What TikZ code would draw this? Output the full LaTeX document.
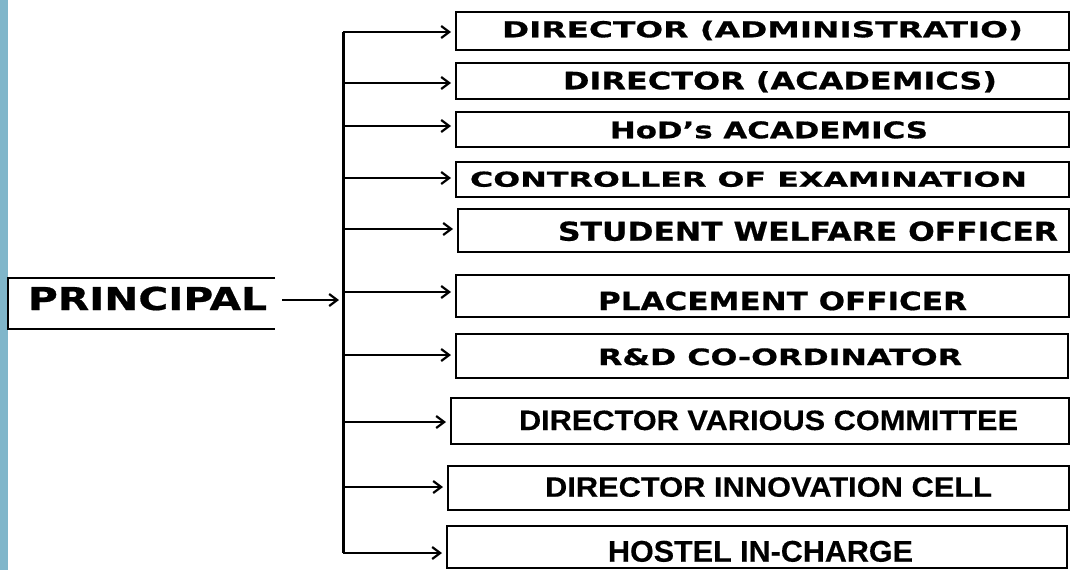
\documentclass[tikz,border=0pt]{standalone}
\usepackage{fontspec}
\usepackage{graphicx}
\usetikzlibrary{arrows.meta}
\newfontfamily\vfont{DejaVu Sans}[BoldFeatures={FakeBold=0.6}]
\newfontfamily\afont{Liberation Sans}[BoldFeatures={FakeBold=0.3}]
\definecolor{barblue}{RGB}{128,182,202}
\newcommand{\fitlbl}[3]{\resizebox{#1}{\height}{\fontsize{#2}{#2}\selectfont #3}}
\begin{document}
\begin{tikzpicture}[x=1pt,y=-1pt,
  orgbox/.style={draw=black, line width=2pt, rectangle, inner sep=0pt},
  lab/.style={anchor=base, inner sep=0pt, text=black},
  arr/.style={-{Straight Barb[length=8pt,width=12pt]}, line width=2.2pt, shorten >=4pt},
  trunkline/.style={line width=3pt}]
\useasboundingbox (0,0) rectangle (1070,570);
\fill[barblue] (0,0) rectangle (8,570);

% principal
\node[inner sep=0pt, minimum width=267pt, minimum height=51pt] (pbox) at (141.5,303.5) {};
\draw[line width=2pt] (pbox.north east) -- (pbox.north west) -- (pbox.south west) -- (pbox.south east);
\node[lab] (pt) at (147.5,310) {\fitlbl{239pt}{31.5pt}{\vfont\bfseries PRINCIPAL}};

% boxes
\node[orgbox, minimum width=613pt, minimum height=38pt] (b1) at (762.5,31) {};
\node[orgbox, minimum width=613pt, minimum height=36pt] (b2) at (762.5,81) {};
\node[orgbox, minimum width=613pt, minimum height=35pt] (b3) at (762.5,129.5) {};
\node[orgbox, minimum width=613pt, minimum height=35pt] (b4) at (762.5,179.5) {};
\node[orgbox, minimum width=611pt, minimum height=43pt] (b5) at (763.5,230.5) {};
\node[orgbox, minimum width=613pt, minimum height=42pt] (b6) at (762.5,296) {};
\node[orgbox, minimum width=612pt, minimum height=44pt] (b7) at (762,356) {};
\node[orgbox, minimum width=618pt, minimum height=46pt] (b8) at (760,421) {};
\node[orgbox, minimum width=621pt, minimum height=44pt] (b9) at (758.5,488) {};
\node[orgbox, minimum width=620pt, minimum height=42pt] (b10) at (757,547) {};

% labels
\node[lab] (t1) at (762.5,37.3) {\fitlbl{521pt}{22pt}{\vfont\bfseries DIRECTOR (ADMINISTRATIO)}};
\node[lab] (t2) at (780,89.3) {\fitlbl{434pt}{24pt}{\vfont\bfseries DIRECTOR (ACADEMICS)}};
\node[lab] (t3) at (769,138.3) {\fitlbl{318pt}{23pt}{\vfont\bfseries HoD’s ACADEMICS}};
\node[lab] (t4) at (748.5,186.7) {\fitlbl{557pt}{20.5pt}{\vfont\bfseries CONTROLLER OF EXAMINATION}};
\node[lab] (t5) at (808,240.7) {\fitlbl{500pt}{26pt}{\vfont\bfseries STUDENT WELFARE OFFICER}};
\node[lab] (t6) at (782.5,310) {\fitlbl{369pt}{25pt}{\vfont\bfseries PLACEMENT OFFICER}};
\node[lab] (t7) at (780,365) {\fitlbl{364pt}{22.5pt}{\vfont\bfseries R\&D CO-ORDINATOR}};
\node[lab] (t8) at (768.5,430) {\fitlbl{499pt}{28pt}{\afont\bfseries DIRECTOR VARIOUS COMMITTEE}};
\node[lab] (t9) at (768.5,496.7) {\fitlbl{447pt}{28pt}{\afont\bfseries DIRECTOR INNOVATION CELL}};
\node[lab] (t10) at (760.5,561.7) {\fitlbl{305pt}{30pt}{\afont\bfseries HOSTEL IN-CHARGE}};

% trunk junctions
\coordinate (j1) at (343,32);
\coordinate (j2) at (343,83);
\coordinate (j3) at (343,126);
\coordinate (j4) at (343,178);
\coordinate (j5) at (343,229);
\coordinate (j6) at (343,292);
\coordinate (j7) at (343,355);
\coordinate (j8) at (343,422);
\coordinate (j9) at (343,487);
\coordinate (j10) at (343,553);
\coordinate (pin) at (343,300);

\draw[trunkline] (j1) -- (j10);
\draw[arr, shorten <=7pt] (pbox.east |- pin) -- (pin);
\foreach \i in {1,...,10} {
  \draw[arr] (j\i) -- (j\i -| b\i.west);
}
\end{tikzpicture}
\end{document}
